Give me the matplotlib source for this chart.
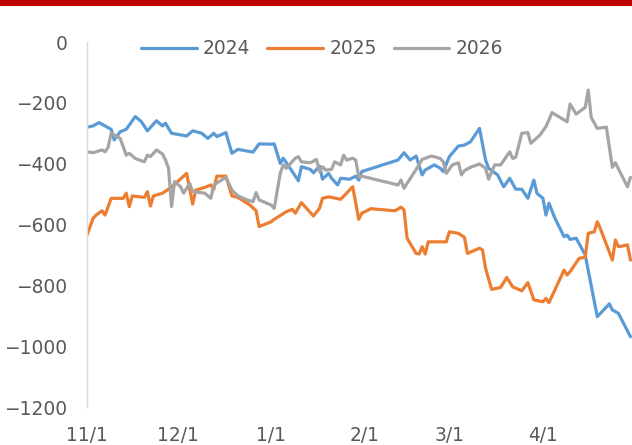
import numpy as np
import pandas as pd
import matplotlib
matplotlib.use("Agg")
import matplotlib.pyplot as plt
import matplotlib.dates as mdates
from matplotlib.patches import Rectangle

# ── data (days after 11/1, value) ────────────────────────────────────
days_2024 = [0, 2, 4, 8, 9, 11, 13, 16, 18, 20, 23, 25, 26, 28, 33, 35, 38, 40, 42, 43,
             46, 48, 50, 55, 57, 61, 62, 64, 65, 68, 70, 71, 74, 75, 77, 78, 80, 81, 83, 84,
             87, 89, 90, 91, 103, 105, 107, 109, 111, 112, 115, 117, 118, 120, 123, 125,
             127, 130, 132, 133, 136, 138, 140, 142, 144, 146, 148, 149, 151, 152, 153,
             155, 158, 159, 160, 162, 165, 169, 173, 174, 176, 180]
vals_2024 = [-280, -276, -265, -287, -322, -295, -287, -245, -262, -292, -259, -276, -267,
             -300, -309, -292, -300, -317, -300, -311, -298, -366, -353, -362, -335, -336,
             -335, -399, -382, -426, -456, -410, -419, -430, -408, -451, -432, -448, -470,
             -448, -451, -441, -454, -426, -388, -364, -388, -375, -437, -421, -404, -415,
             -426, -377, -342, -339, -328, -284, -388, -415, -437, -476, -448, -484, -484,
             -514, -454, -497, -514, -569, -530, -580, -640, -635, -649, -645, -700, -903,
             -861, -881, -892, -969]

days_2025 = [0, 2, 3, 5, 6, 8, 12, 13, 14, 15, 19, 20, 21, 22, 25, 27, 30, 33, 35, 36,
             39, 41, 42, 43, 46, 48, 50, 54, 56, 57, 61, 62, 66, 68, 69, 71, 75, 77, 78, 80,
             84, 86, 88, 90, 91, 94, 102, 104, 105, 106, 109, 110, 111, 112, 113, 119, 120,
             123, 125, 126, 130, 131, 132, 134, 137, 139, 141, 144, 146, 148, 151, 152, 153,
             158, 159, 160, 163, 165, 166, 168, 169, 170, 174, 175, 176, 179, 180]
vals_2025 = [-635, -580, -569, -555, -569, -514, -514, -497, -541, -506, -511, -492, -539,
             -506, -497, -484, -459, -432, -533, -487, -478, -470, -484, -441, -441, -506,
             -511, -536, -555, -607, -591, -583, -558, -550, -563, -528, -572, -547, -514,
             -509, -517, -497, -476, -583, -563, -548, -555, -543, -552, -645, -695, -697,
             -673, -697, -657, -657, -624, -629, -642, -695, -678, -684, -744, -813, -807,
             -774, -805, -818, -791, -848, -854, -843, -857, -750, -766, -755, -711, -708,
             -629, -624, -591, -613, -717, -651, -673, -667, -717]

days_2026 = [0, 2, 5, 6, 7, 8, 11, 13, 14, 16, 19, 20, 21, 23, 25, 26, 27, 28, 29, 31,
             32, 34, 35, 39, 41, 42, 45, 46, 48, 50, 53, 55, 56, 57, 61, 62, 64, 65, 66, 69,
             70, 71, 74, 76, 77, 78, 79, 81, 82, 84, 85, 86, 88, 89, 90, 91, 103, 104, 105,
             106, 109, 111, 114, 115, 117, 118, 119, 121, 123, 124, 125, 127, 130, 132, 133,
             135, 137, 140, 141, 142, 144, 146, 147, 150, 152, 153, 154, 159, 160, 162, 165,
             166, 167, 169, 172, 174, 175, 179, 180]
vals_2026 = [-361, -364, -355, -361, -346, -300, -317, -372, -366, -383, -394, -372, -377,
             -355, -368, -388, -415, -541, -459, -476, -497, -465, -492, -497, -514, -470,
             -451, -445, -487, -506, -519, -525, -495, -519, -536, -547, -432, -404, -415,
             -382, -377, -394, -397, -386, -426, -410, -421, -419, -394, -404, -372, -388,
             -382, -388, -443, -441, -470, -454, -481, -465, -419, -386, -375, -377, -383,
             -394, -432, -404, -397, -437, -423, -412, -401, -415, -451, -404, -404, -361,
             -383, -379, -300, -298, -333, -306, -278, -256, -232, -262, -204, -237, -215,
             -158, -248, -284, -280, -412, -397, -476, -445]

series_names = ["2024", "2025", "2026"]
series_days = [days_2024, days_2025, days_2026]
series_vals = [vals_2024, vals_2025, vals_2026]
colors = ["#5B9BD5", "#ED7D31", "#A5A5A5"]

base = pd.Timestamp("2025-11-01")
yticks = [0, -200, -400, -600, -800, -1000, -1200]

# ── figure ───────────────────────────────────────────────────────────
fig = plt.figure(figsize=(6.32, 4.45), dpi=100)
fig.patches.append(Rectangle((0, 1 - 6 / 445), 1, 6 / 445, transform=fig.transFigure,
                             facecolor="#C00000", edgecolor="none", zorder=5))

ax = fig.add_axes([87 / 632, 1 - 407 / 445, 1 - 87 / 632, 365 / 445])

for name, d, v, c in zip(series_names, series_days, series_vals, colors):
    x = base + pd.to_timedelta(d, unit="D")
    ax.plot(x, v, color=c, lw=2.3, label=name, solid_joinstyle="round",
            solid_capstyle="round")

ax.set_ylim(-1200, 0)
ax.set_yticks(yticks)
ax.set_xlim(base, base + pd.Timedelta(days=180.5))
ax.xaxis.set_major_locator(mdates.MonthLocator())
ax.xaxis.set_major_formatter(plt.FuncFormatter(
    lambda v, p: f"{mdates.num2date(v).month}/{mdates.num2date(v).day}"))

for s in ["top", "right", "bottom"]:
    ax.spines[s].set_visible(False)
ax.spines["left"].set_color("#D9D9D9")
ax.spines["left"].set_linewidth(1.0)
ax.tick_params(length=0, labelsize=13.4, labelcolor="#595959")
ax.tick_params(axis="y", pad=14)
ax.tick_params(axis="x", pad=14)

ax.legend(loc="center", bbox_to_anchor=(322 / 632, 1 - 49 / 445),
          bbox_transform=fig.transFigure, ncol=3, frameon=False,
          fontsize=13.4, labelcolor="#595959", handlelength=3.0,
          handletextpad=0.35, columnspacing=0.9)

fig.savefig("out.png", dpi=100)
